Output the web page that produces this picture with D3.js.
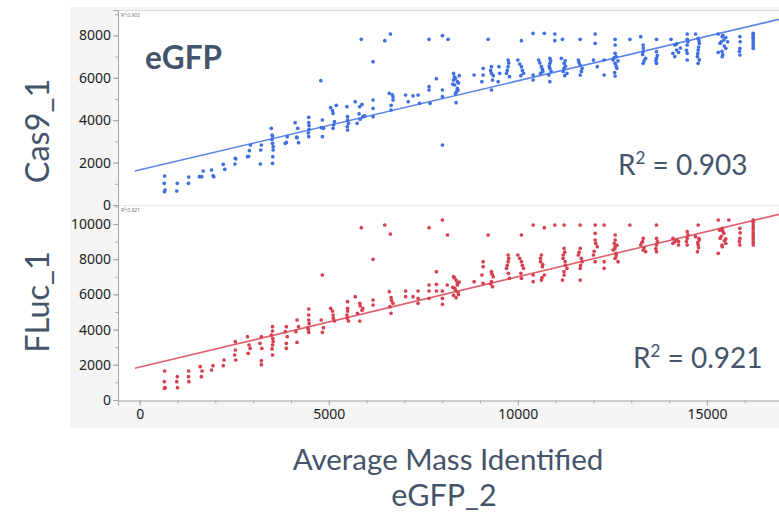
<!DOCTYPE html>
<html>
<head>
<meta charset="utf-8">
<script src="https://cdn.jsdelivr.net/npm/d3@7"></script>
<style>
  html, body { margin: 0; padding: 0; background: #ffffff; }
  svg { display: block; }
</style>
</head>
<body>
<svg id="chart" width="779" height="515"></svg>
<script>
// Average mass identified in eGFP_2 (x) against Cas9_1 and FLuc_1 (y)
const cas9Points = [
  [661,1368],[650,1022],[670,707],[655,629],
  [995,1022],[980,660],
  [1296,1320],[1290,1022],
  [1580,1336],[1680,1604],[1640,1336],
  [1900,1651],[1960,1336],[1940,1380],
  [2210,1918],[2250,1682],
  [2529,2201],[2520,1934],[2540,2180],
  [2850,2279],[2900,2562],[2930,2830],[2880,2300],
  [3217,2830],[3200,2594],[3190,1934],
  [3480,3616],[3513,3254],[3513,2908],[3530,2594],[3520,2279],[3513,1965],[3500,3300],[3500,3100],[3530,2750],
  [3850,2908],[3900,3223],[3880,2950],
  [4110,3883],[4180,3616],[4161,3176],[4200,2940],[4150,3200],
  [4471,4135],[4471,3883],[4480,3569],[4471,3223],[4480,3750],[4460,3400],
  [4790,5864],[4831,4009],[4860,3616],[4831,3223],[4800,3650],
  [5050,4590],[5114,4323],[5150,3930],[5114,3616],[5200,4700],[5100,4450],[5130,3780],
  [5480,4637],[5497,4166],[5520,3852],[5497,3537],[5500,4000],[5490,3700],
  [5700,4874],[5820,4637],[5900,4166],[5750,3852],[5860,7815],[5950,4200],[5800,4300],[5830,4050],[5880,4750],
  [6172,6761],[6172,4952],[6172,4559],[6172,4166],
  [6481,7750],[6630,8065],
  [6600,5267],[6700,4952],[6648,4480],[6700,5100],[6650,4700],[6680,5200],
  [7032,5188],[7100,4874],[7230,5150],
  [7362,5188],[7400,4795],
  [7653,7815],[7653,5581],[7653,5424],[7680,4795],
  [7847,5958],
  [8006,7988],[8006,2830],[8006,5424],[8006,5110],
  [8156,7815],
  [8300,6212],[8350,5976],[8400,5818],[8330,5660],[8420,5424],[8380,5346],[8367,4826],[8450,6100],[8280,5700],
  [8320,6050],[8400,5500],[8350,5250],[8300,5900],[8430,5760],
  [8844,6133],
  [9082,6447],[9082,6133],[9050,5818],
  [9214,7815],
  [9302,6526],[9302,6212],[9330,5897],[9302,5424],[9280,6350],[9350,6100],
  [9500,6526],[9520,6212],[9480,5818],
  [9743,6840],[9743,6526],[9700,6212],[9780,6054],[9760,6700],[9720,6350],
  [10000,6840],[10095,6526],[10150,6212],[10095,7750],[10050,6650],[10120,6350],[10080,6100],
  [10405,8099],[10405,6133],[10405,5897],
  [10550,6840],[10624,6526],[10600,6212],[10700,8099],[10650,6400],[10580,6700],[10660,6300],
  [10847,6919],[10847,6683],[10847,6447],[10820,6133],[10847,5818],[10870,6800],[10830,6550],[10880,6300],
  [10979,8065],[10979,7750],
  [11150,6919],[11225,6683],[11225,6447],[11300,6212],[11180,7815],[11250,6800],[11260,6550],[11200,6300],[11240,6100],
  [11600,6840],[11649,6604],[11700,6447],[11649,6133],[11649,7815],[11620,6720],[11680,6300],
  [12045,8065],[12045,7625],[12000,6840],[12100,6526],
  [12283,6840],[12283,6133],
  [12574,7815],[12574,7547],[12574,7153],[12520,6840],[12574,6683],[12620,6447],[12574,6086],[12650,6800],
  [12550,6950],[12600,6560],[12560,6250],[12600,7000],
  [12963,7815],
  [13250,7940],[13315,7547],[13315,7232],[13380,6919],[13315,6683],[13300,7100],[13340,6800],[13320,7400],
  [13667,7815],[13667,7232],[13667,6919],[13667,6683],[13690,7050],[13650,6800],
  [14050,7815],[14153,7547],[14200,7311],[14100,7153],[14300,7400],[14200,7600],[14250,7200],[14150,7000],
  [14479,8065],[14479,7815],[14479,7547],[14479,7153],[14479,6840],[14500,7700],[14460,7300],
  [14700,8065],[14770,7862],[14800,7625],[14770,7311],[14750,6997],[14770,6683],
  [14790,7750],[14780,7450],[14760,7150],[14800,6850],
  [15300,8065],[15405,7940],[15450,7783],[15350,7625],[15500,7389],[15405,6997],[15500,7900],
  [15420,8000],[15380,7700],[15460,7500],[15400,7250],[15420,7100],[15300,7200],[15550,7700],
  [15873,7940],[15873,7389],[15873,7075],[15880,7700],[15860,7250],
  [16225,8099],[16225,7862],[16225,7625],[16225,7389],[16225,7950],[16225,7750],[16225,7500],[16225,8030]
];

const flucPoints = [
  [661,1648],[650,1042],[670,701],[655,663],
  [995,1326],[980,1042],[1000,701],
  [1296,1648],[1290,1326],[1300,1042],
  [1600,1894],[1650,1648],[1630,1326],
  [1939,1951],[1900,1705],
  [2230,2272],[2210,1951],
  [2529,3314],[2529,2841],[2510,2557],[2540,2272],
  [2850,3598],[2891,3125],[2920,2936],[2870,2652],
  [3217,3598],[3180,3219],[3230,2936],[3217,2235],[3217,2008],
  [3513,4166],[3513,3920],[3480,3693],[3530,3314],[3513,3125],[3513,2557],[3520,3500],[3500,2900],
  [3878,4166],[3850,3882],[3900,3598],[3878,3219],[3878,2936],
  [4161,4545],[4200,4166],[4130,3882],[4161,3276],
  [4471,5170],[4471,4829],[4471,4545],[4450,4110],[4471,3844],[4480,4350],[4460,4000],
  [4831,7102],[4800,4545],[4860,4110],[4831,3844],
  [5050,5208],[5114,4829],[5150,4488],[5120,4650],[5100,5050],
  [5497,5587],[5497,5208],[5480,4829],[5520,4488],[5500,5050],[5490,4650],
  [5860,9792],[5700,5871],[5820,5492],[5900,5208],[5760,4924],[5820,4488],[5830,5350],[5880,5100],
  [6172,7993],[6172,5682],[6172,5397],
  [6481,9944],[6630,9432],
  [6600,6155],[6648,5814],[6700,5492],[6648,4924],[6660,5650],[6620,5300],
  [7032,6193],[7032,5871],
  [7230,5871],
  [7362,6193],[7362,5776],[7362,5492],
  [7653,9792],[7653,6534],[7653,6193],[7653,5776],
  [7847,7291],[7847,6572],[7847,6193],
  [8006,10228],[8006,6193],[8006,5776],[8006,5435],
  [8140,9375],[8133,6534],
  [8300,7006],[8367,6817],[8400,6534],[8330,6345],[8420,6117],[8367,5814],[8450,6700],[8280,6400],
  [8320,6950],[8400,6650],[8350,6250],[8300,5950],[8430,6000],
  [8844,6723],
  [9082,7859],[9082,7575],[9050,7102],[9082,6629],
  [9214,9375],
  [9302,7291],[9350,7006],[9302,6723],[9330,6439],[9320,7150],[9280,6600],
  [9743,8239],[9743,7859],[9700,7480],[9780,6912],[9760,8050],[9720,7650],[9750,7200],
  [10095,9375],[10000,8239],[10095,7859],[10150,7480],[10095,6912],[10050,8050],[10120,7650],[10080,7200],
  [10405,9944],[10405,7102],[10405,6723],
  [10700,9792],[10624,8239],[10600,7859],[10650,7575],[10700,7102],[10624,6817],[10600,8050],[10660,7700],[10640,6950],
  [10979,9944],[11225,9944],
  [11225,8618],[11200,8239],[11250,7859],[11300,7480],[11225,7102],[11180,6817],
  [11240,8400],[11200,8050],[11260,7650],[11220,7300],
  [11649,9944],[11649,8618],[11600,8239],[11700,7859],[11649,7480],[11649,6817],[11620,8400],[11680,8050],[11660,7650],
  [12045,9944],[12283,9944],[12045,9470],[12045,9091],[12100,8712],[12000,8239],[12045,7859],[12060,8900],[12020,8450],
  [12283,7859],[12283,7480],
  [12574,9375],[12574,9091],[12574,8712],[12520,8523],[12600,8333],[12574,8049],[12650,7859],
  [12550,8900],[12600,8200],[12560,8600],[12620,8800],
  [12963,9944],
  [13315,9186],[13250,8807],[13315,8523],[13380,8428],[13300,9000],[13340,8650],[13280,8950],
  [13667,9944],[13667,9186],[13667,8807],[13667,8428],[13690,9000],[13650,8600],
  [14100,9186],[14153,8996],[14250,8807],[14200,9100],[14100,8900],[14250,9000],
  [14479,9565],[14479,9186],[14479,8807],[14500,9380],[14460,9000],
  [14770,9944],[14700,9281],[14800,9091],[14770,8807],[14750,8428],[14790,9180],[14760,8950],[14780,8650],
  [15300,10228],[15405,9754],[15450,9470],[15350,9186],[15500,8902],[15405,8712],[15300,8333],
  [15420,9600],[15380,9300],[15460,9050],[15400,8800],[15340,9650],[15500,9150],
  [15580,10228],
  [15873,9754],[15873,9186],[15873,8807],[15880,9500],[15860,9000],
  [16225,10228],[16225,9944],[16225,9660],[16225,9375],[16225,9091],[16225,8807],
  [16225,10100],[16225,9800],[16225,9500],[16225,9230],[16225,8950]
];

// Least-squares fit lines: [intercept, slope]
const cas9Fit = [1655, 0.42];
const flucFit = [1867, 0.5135];
const fitStartX = -130;

const xTicks = [0, 5000, 10000, 15000];
const cas9Ticks = [0, 2000, 4000, 6000, 8000];
const flucTicks = [0, 2000, 4000, 6000, 8000, 10000];
const rSquared = ["0.903", "0.921"];
const yTitles = ["Cas9_1", "FLuc_1"];
const xTitle = ["Average Mass Identified", "eGFP_2"];
const insetLabel = "eGFP";

const svg = d3.select("#chart");
const slate = "#44546a";
const tickFont = "'Noto Sans', 'Open Sans', sans-serif";
const labelFont = "Lato, 'Noto Sans', sans-serif";

// report frame
svg.append("rect").attr("x", 70).attr("y", 7).attr("width", 709).attr("height", 421).attr("fill", "#f5f5f5");

const plotLeft = 118, plotRight = 779;
const x = d3.scaleLinear().domain([-574, 16907]).range([plotLeft, plotRight]);

const panels = [
  { pts: cas9Points, fit: cas9Fit, ticks: cas9Ticks, top: 10, bottom: 205, max: 9198,
    color: "#3f6fe0", lineColor: "#5a86ea", r2: rSquared[0], title: yTitles[0], titleY: 131,
    r2x: 618, r2y: 175 },
  { pts: flucPoints, fit: flucFit, ticks: flucTicks, top: 205, bottom: 400, max: 11080,
    color: "#d6414f", lineColor: "#e0606d", r2: rSquared[1], title: yTitles[1], titleY: 302,
    r2x: 633, r2y: 368 }
];

panels.forEach((p, i) => {
  const y = d3.scaleLinear().domain([0, p.max]).range([p.bottom, p.top]);
  const g = svg.append("g");
  g.append("rect").attr("x", plotLeft).attr("y", p.top).attr("width", plotRight - plotLeft)
    .attr("height", p.bottom - p.top).attr("fill", "#ffffff");
  // panel border
  g.append("line").attr("x1", plotLeft).attr("x2", plotRight).attr("y1", p.top + 0.5).attr("y2", p.top + 0.5)
    .attr("stroke", i === 0 ? "#d9d9d9" : "#ececec").attr("stroke-width", 1);

  // minor ticks
  const minor = d3.range(0, p.max, 1000);
  g.append("g").attr("transform", `translate(${plotLeft},0)`)
    .call(d3.axisLeft(y).tickValues(minor).tickSize(3).tickFormat(""))
    .call(s => s.select(".domain").remove())
    .call(s => s.selectAll("line").attr("stroke", "#b0b0b0"));
  // major ticks
  g.append("g").attr("transform", `translate(${plotLeft},0)`)
    .call(d3.axisLeft(y).tickValues(p.ticks).tickSize(5).tickPadding(2).tickFormat(d3.format("d")))
    .call(s => s.select(".domain").attr("stroke", "#a6a6a6"))
    .call(s => s.selectAll("line").attr("stroke", "#a6a6a6"))
    .call(s => s.selectAll("text").attr("font-family", tickFont).attr("font-size", 14).attr("fill", "#222"));

  // fit line
  const x2 = x.domain()[1];
  g.append("line")
    .attr("x1", x(fitStartX)).attr("y1", y(p.fit[0] + p.fit[1] * fitStartX))
    .attr("x2", x(x2)).attr("y2", y(p.fit[0] + p.fit[1] * x2))
    .attr("stroke", p.lineColor).attr("stroke-width", 1.6);

  // points
  g.append("g").selectAll("circle").data(p.pts).join("circle")
    .attr("cx", d => x(d[0])).attr("cy", d => y(d[1])).attr("r", 1.85)
    .attr("fill", p.color);

  // small corner statistic
  g.append("text").attr("x", plotLeft + 3).attr("y", p.top + 7).attr("font-size", 5)
    .attr("font-family", tickFont).attr("fill", "#777").text("R²:0" + p.r2.slice(1));

  // R² annotation
  const t = g.append("text").attr("x", p.r2x).attr("y", p.r2y).attr("font-family", labelFont)
    .attr("font-size", 28).attr("fill", slate);
  t.append("tspan").text("R");
  t.append("tspan").attr("dy", -11).attr("font-size", 17).text("2");
  t.append("tspan").attr("dy", 11).text(" = " + p.r2);

  // y title
  svg.append("text").attr("transform", `translate(49,${p.titleY}) rotate(-90)`)
    .attr("text-anchor", "middle").attr("font-family", labelFont).attr("font-size", 32.5)
    .attr("fill", slate).text(p.title);
});

// x axis
const xg = svg.append("g").attr("transform", "translate(0,400.5)");
xg.call(d3.axisBottom(x).tickValues(d3.range(0, 17000, 1000)).tickSize(3).tickFormat(""))
  .call(s => s.select(".domain").remove())
  .call(s => s.selectAll("line").attr("stroke", "#b0b0b0"));
svg.append("g").attr("transform", "translate(0,400.5)")
  .call(d3.axisBottom(x).tickValues(xTicks).tickSize(5).tickPadding(4).tickFormat(d3.format("d")))
  .call(s => s.select(".domain").attr("stroke", "#a6a6a6"))
  .call(s => s.selectAll("line").attr("stroke", "#a6a6a6"))
  .call(s => s.selectAll("text").attr("font-family", tickFont).attr("font-size", 14).attr("fill", "#222"));

// inset label
svg.append("text").attr("x", 145).attr("y", 69).attr("font-family", labelFont).attr("font-weight", "bold")
  .attr("font-size", 31.5).attr("fill", slate).text(insetLabel);

// x title
svg.append("text").attr("x", 448).attr("y", 470).attr("text-anchor", "middle").attr("font-family", labelFont)
  .attr("font-size", 29.5).attr("fill", slate).text(xTitle[0]);
svg.append("text").attr("x", 444).attr("y", 506).attr("text-anchor", "middle").attr("font-family", labelFont)
  .attr("font-size", 30.5).attr("fill", slate).text(xTitle[1]);
</script>
</body>
</html>
